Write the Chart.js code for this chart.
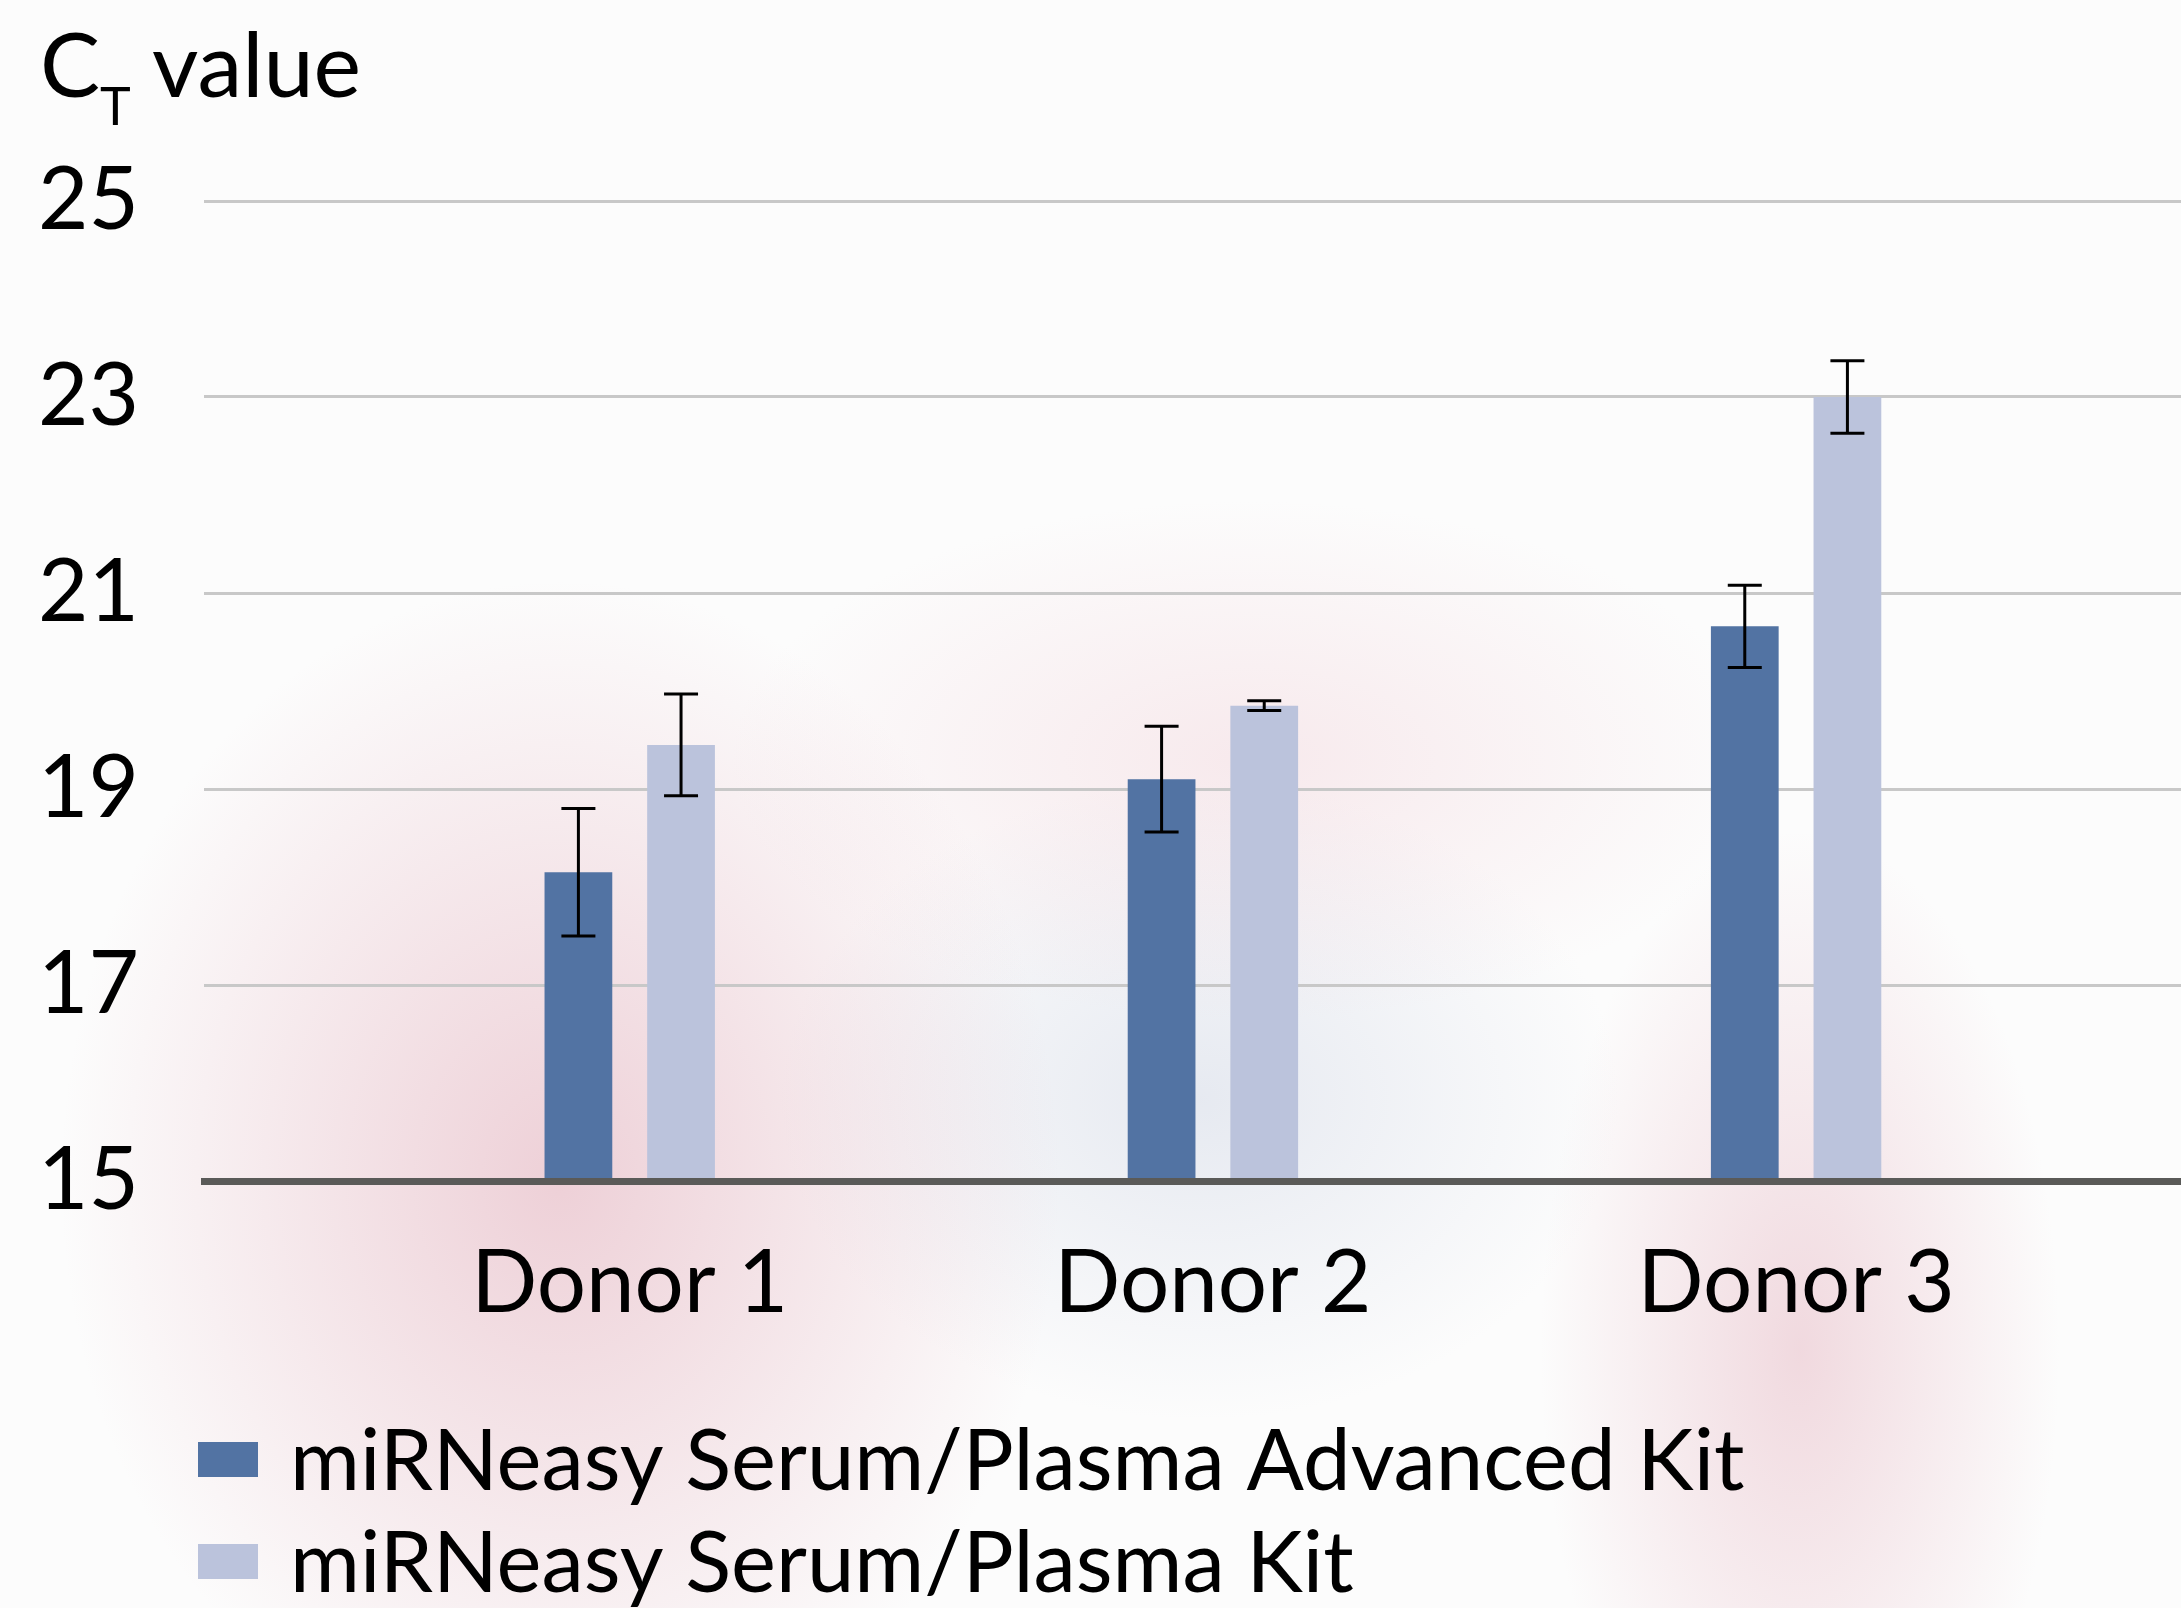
<!DOCTYPE html>
<html>
<head>
<meta charset="utf-8">
<script src="https://cdn.jsdelivr.net/npm/chart.js"></script>
<style>
  html, body { margin: 0; padding: 0; }
  body {
    width: 2181px; height: 1608px; overflow: hidden;
    background:
      radial-gradient(ellipse 500px 600px at 560px 1180px, rgba(222,160,175,0.48), rgba(222,160,175,0) 100%),
      radial-gradient(ellipse 520px 260px at 1250px 760px, rgba(236,190,200,0.30), rgba(236,190,200,0) 100%),
      radial-gradient(ellipse 420px 320px at 1200px 1100px, rgba(200,208,225,0.42), rgba(200,208,225,0) 100%),
      radial-gradient(ellipse 260px 520px at 1800px 1350px, rgba(222,160,175,0.38), rgba(222,160,175,0) 100%),
      #fcfcfc;
  }
  canvas { display: block; }
</style>
</head>
<body>
<canvas id="grafico" width="2181" height="1608"></canvas>
<script>
// datos
const donantes = ["Donor 1", "Donor 2", "Donor 3"];
const serieAdvanced = [18.15, 19.10, 20.66];
const errorAdvanced = [0.65, 0.54, 0.42];
const serieKit = [19.45, 19.85, 23.0];
const errorKit = [0.52, 0.05, 0.37];
const ticksY = [15, 17, 19, 21, 23, 25];
const nombres = ["miRNeasy Serum/Plasma Advanced Kit", "miRNeasy Serum/Plasma Kit"];

const FUENTE = "Lato, 'Open Sans', sans-serif";

// barras de error
const barrasError = {
  id: "barrasError",
  afterDatasetsDraw(chart) {
    const ctx = chart.ctx;
    const y = chart.scales.y;
    ctx.save();
    ctx.strokeStyle = "#000";
    ctx.lineWidth = 3;
    chart.data.datasets.forEach((ds, i) => {
      const meta = chart.getDatasetMeta(i);
      meta.data.forEach((bar, j) => {
        const v = ds.data[j].y;
        const e = ds.errores[j];
        const top = y.getPixelForValue(v + e);
        const bot = y.getPixelForValue(v - e);
        ctx.beginPath();
        ctx.moveTo(bar.x, top); ctx.lineTo(bar.x, bot);
        ctx.moveTo(bar.x - 17, top); ctx.lineTo(bar.x + 17, top);
        ctx.moveTo(bar.x - 17, bot); ctx.lineTo(bar.x + 17, bot);
        ctx.stroke();
      });
    });
    ctx.restore();
  }
};

// título del eje y leyenda
const textos = {
  id: "textos",
  afterDraw(chart) {
    const ctx = chart.ctx;
    ctx.save();
    ctx.fillStyle = "#000";
    ctx.textBaseline = "alphabetic";
    ctx.textAlign = "left";
    ctx.font = "90px " + FUENTE;
    ctx.fillText("C", 40, 97);
    let x = 40 + ctx.measureText("C").width;
    ctx.font = "52px " + FUENTE;
    ctx.fillText("T", x, 125);
    ctx.font = "90px " + FUENTE;
    ctx.fillText("value", 152, 97);

    chart.data.datasets.forEach((ds, i) => {
      const yy = 1442 + i * 102;
      ctx.fillStyle = ds.backgroundColor;
      ctx.fillRect(198, yy, 60, 35);
      ctx.fillStyle = "#000";
      ctx.font = "85px " + FUENTE;
      ctx.fillText(ds.label, 290, yy + 48);
    });
    ctx.restore();
  }
};

const ctx = document.getElementById("grafico").getContext("2d");

new Chart(ctx, {
  type: "bar",
  data: {
    datasets: [
      {
        label: nombres[0],
        data: serieAdvanced.map((v, i) => ({ x: i, y: v })),
        errores: errorAdvanced,
        backgroundColor: "#5273a3"
      },
      {
        label: nombres[1],
        data: serieKit.map((v, i) => ({ x: i, y: v })),
        errores: errorKit,
        backgroundColor: "#bbc3dc"
      }
    ]
  },
  options: {
    responsive: false,
    animation: false,
    devicePixelRatio: 1,
    categoryPercentage: 0.352,
    barPercentage: 0.66,
    layout: { padding: { top: 201, right: 0, left: 0, bottom: 0 } },
    plugins: {
      legend: { display: false },
      tooltip: { enabled: false }
    },
    scales: {
      x: {
        type: "linear",
        offset: false,
        min: -0.73,
        max: 2.66,
        afterBuildTicks: (s) => { s.ticks = donantes.map((d, i) => ({ value: i })); },
        afterFit: (s) => { s.height = 427; },
        grid: { display: false, drawTicks: false, offset: false },
        border: { display: true, color: "#5a5a58", width: 7, z: 1 },
        ticks: {
          color: "#000",
          padding: 51,
          font: { family: FUENTE, size: 87 },
          callback: (v) => donantes[v]
        }
      },
      y: {
        min: 15,
        max: 25,
        afterBuildTicks: (s) => { s.ticks = ticksY.map(v => ({ value: v })); },
        afterFit: (s) => { s.width = 204; },
        grid: { color: "#c8c8c8", lineWidth: 3, drawTicks: false },
        border: { display: false },
        ticks: {
          color: "#000",
          padding: 65,
          font: { family: FUENTE, size: 87 }
        }
      }
    }
  },
  plugins: [barrasError, textos]
});
</script>
</body>
</html>
